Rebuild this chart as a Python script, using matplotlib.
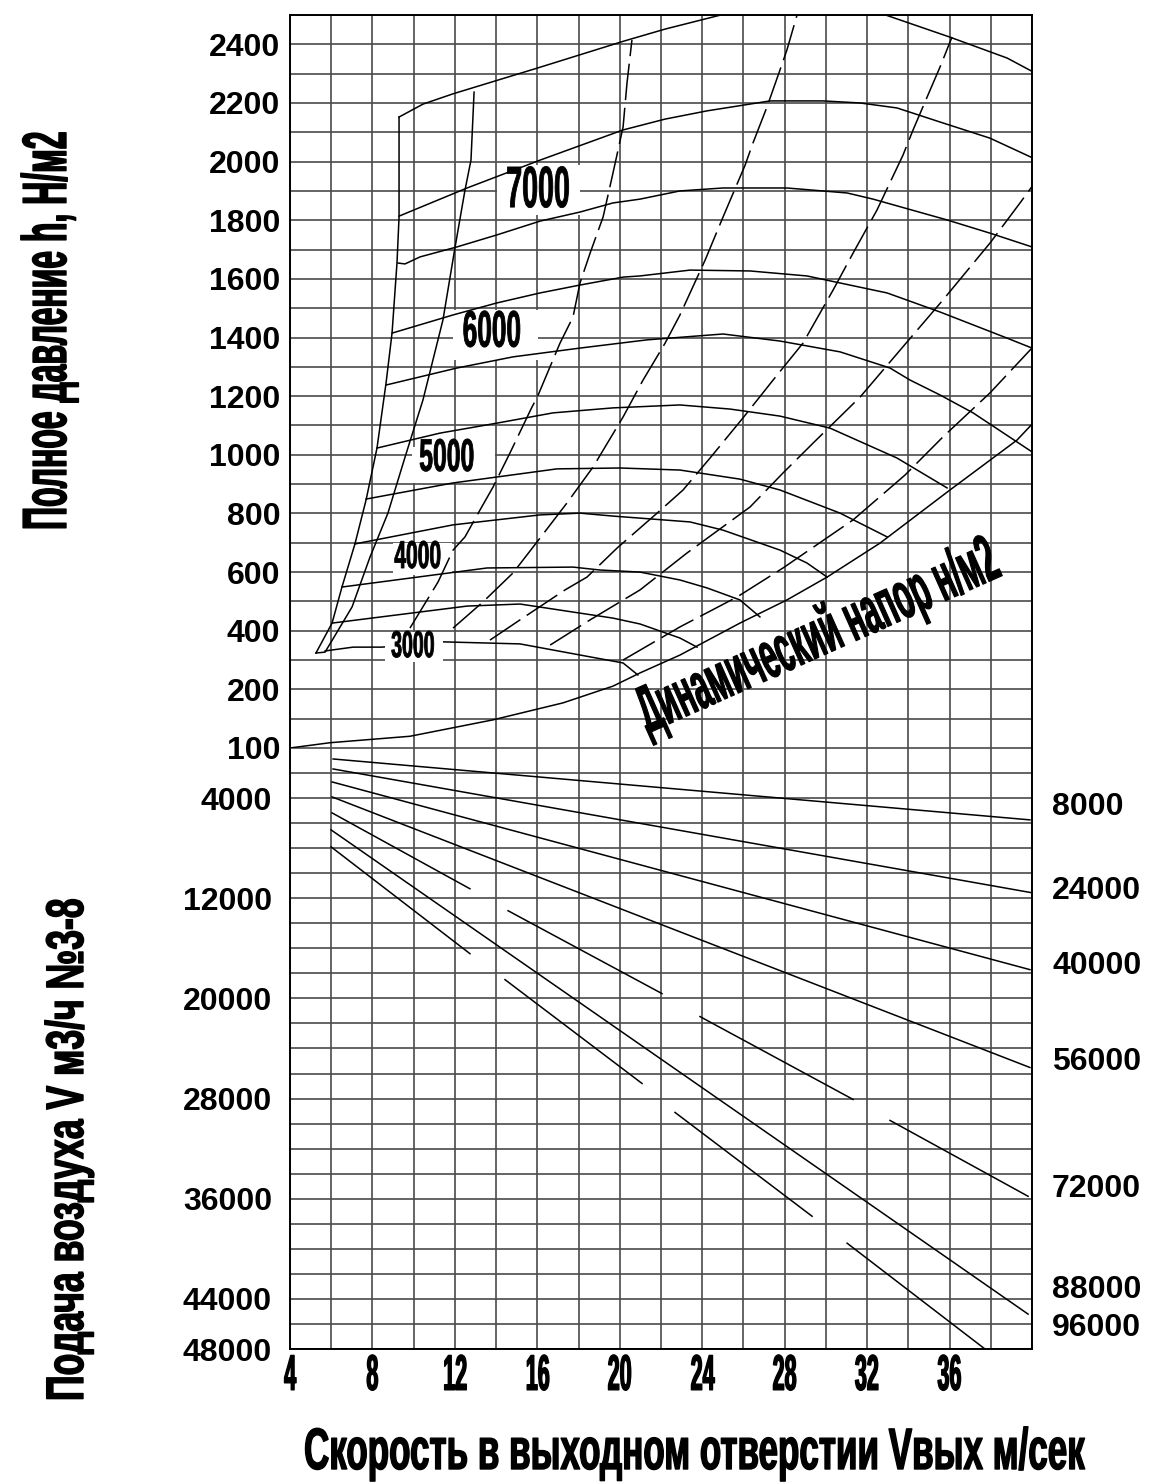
import numpy as np
import matplotlib
matplotlib.use("Agg")
import matplotlib.pyplot as plt
from matplotlib.patches import Rectangle
from matplotlib.patheffects import AbstractPathEffect
from matplotlib.transforms import Affine2D, blended_transform_factory

plt.rcParams['font.family'] = ['Liberation Sans', 'DejaVu Sans']
plt.rcParams['font.weight'] = 'bold'

# ---- axes / labels ----
speed_grid = list(range(4, 41, 2))
speed_labels = [4, 8, 12, 16, 20, 24, 28, 32, 36]
press_grid = [100, 150] + list(range(200, 2501, 100))
press_labels = [2400, 2200, 2000, 1800, 1600, 1400, 1200, 1000, 800, 600, 400, 200, 100]
flow_grid = list(range(0, 48001, 2000))
flow_labels = [4000, 12000, 20000, 28000, 36000, 44000, 48000]
# right side labels (fan size lines) and where they sit
fan_names = ['8000', '24000', '40000', '56000', '72000', '88000', '96000']
fan_label_q = [4700, 11400, 17400, 25100, 35200, 43300, 46300]

# ---- pressure curves (speed m/s, pressure N/m2) ----
c0_v = [32.9, 36.0, 38.8, 40.05]
c0_h = [2500, 2425, 2353, 2306]
c1_v = [9.29, 10.45, 11.9, 16.0, 20.2, 22.2, 24.9]
c1_h = [2152, 2196, 2231, 2319, 2411, 2452, 2500]
c2_v = [9.29, 12.59, 16.13, 20.16, 22.2, 24.23, 27.29, 29.86, 31.66, 33.45, 35.54, 37.96, 40.05]
c2_h = [1814, 1910, 2005, 2108, 2145, 2173, 2207, 2207, 2200, 2183, 2135, 2080, 2012]
c3_v = [9.24, 9.58, 10.31, 12.1, 14.04, 16.13, 18.07, 19.67, 20.98, 22.92, 25.01, 28.11, 31.03,
        32.29, 35.88, 37.96, 40.0]
c3_h = [1654, 1651, 1675, 1709, 1750, 1797, 1828, 1859, 1872, 1900, 1910, 1910, 1893,
        1872, 1801, 1756, 1709]
c4_v = [8.95, 11.91, 14.04, 16.13, 18.07, 20.16, 20.98, 23.41, 26.32, 29.08, 32.97, 35.54, 38.79, 40.0]
c4_h = [1415, 1477, 1518, 1552, 1579, 1606, 1610, 1630, 1627, 1610, 1552, 1487, 1398, 1364]
c5_v = [8.66, 12.1, 14.82, 18.07, 21.32, 25.01, 27.77, 30.69, 33.11, 34.08, 35.54, 37.14, 40.0]
c5_h = [1238, 1296, 1334, 1364, 1392, 1412, 1388, 1351, 1296, 1255, 1204, 1143, 1010]
c6_v = [8.22, 11.28, 14.04, 16.76, 19.67, 22.92, 25.35, 27.77, 30.2, 33.45, 35.88]
c6_h = [1023, 1074, 1108, 1143, 1160, 1170, 1156, 1132, 1091, 989, 887]
c7_v = [7.69, 11.91, 16.95, 20.01, 22.92, 25.83, 27.77, 30.69, 32.97]
c7_h = [849, 904, 952, 955, 948, 917, 880, 801, 720]
c8_v = [7.15, 11.91, 16.13, 18.07, 19.67, 23.41, 25.01, 27.77, 29.08, 30.06]
c8_h = [696, 761, 795, 801, 791, 771, 743, 675, 631, 583]
c9_v = [6.52, 13.56, 17.73, 19.04, 20.98, 22.92, 24.23, 25.83, 26.8]
c9_h = [549, 614, 617, 607, 600, 573, 546, 505, 447]
c10_v = [6.04, 12.59, 15.16, 19.67, 20.98, 22.92, 23.75]
c10_h = [426, 484, 491, 443, 423, 375, 344]
c11_v = [5.7, 7.06, 8.46, 11.42, 15.16, 20.16, 20.88]
c11_h = [331, 344, 344, 362, 355, 290, 249]

# boundary lines on the left
e1_v = [9.29, 9.29, 9.19, 8.95, 8.66, 8.22, 7.69, 7.15, 6.52, 6.04, 5.26]
e1_h = [2152, 1811, 1654, 1415, 1245, 1023, 846, 696, 549, 426, 324]
e2_v = [12.93, 12.78, 12.49, 12.01, 11.42, 10.45, 9.58, 8.75, 7.88, 7.01, 5.7, 5.26]
e2_h = [2237, 2005, 1903, 1709, 1460, 1187, 992, 801, 651, 481, 327, 324]

# dashed lines
d1_v = [9.82, 11.18, 11.91, 12.49, 13.22, 13.85, 14.67, 15.74, 15.98, 17.1, 17.73, 18.07, 18.56,
        19.19, 19.67, 20.16, 20.35, 20.59]
d1_h = [409, 566, 675, 720, 812, 890, 1006, 1163, 1194, 1381, 1470, 1586, 1688,
        1811, 1961, 2118, 2268, 2415]
d2_v = [11.91, 13.36, 14.82, 16.13, 17.44, 18.7, 20.16, 21.13, 22.2, 22.92, 23.41, 24.14, 25.01,
        26.08, 26.46, 27.14, 27.77, 28.11, 28.6]
d2_h = [409, 498, 597, 716, 836, 958, 1129, 1255, 1381, 1477, 1552, 1664, 1811,
        1988, 2063, 2186, 2312, 2381, 2500]
d3_v = [13.7, 15.16, 17.34, 18.41, 19.87, 21.81, 23.07, 24.38, 25.98, 27.44, 28.89, 30.35, 31.32,
        32.48, 33.74, 34.23, 34.91, 35.54, 36.12]
d3_h = [368, 437, 539, 583, 682, 801, 880, 989, 1126, 1255, 1381, 1562, 1688,
        1835, 2022, 2108, 2220, 2323, 2425]
d4_v = [16.62, 18.56, 20.98, 23.26, 26.32, 27.92, 29.38, 31.66, 33.6, 35.68, 37.96, 39.42, 40.05]
d4_h = [351, 437, 539, 665, 822, 938, 1040, 1197, 1357, 1528, 1722, 1859, 1920]
d5_v = [20.16, 22.92, 25.69, 27.92, 31.32, 33.84, 35.68, 37.96, 40.05]
d5_h = [300, 413, 515, 614, 778, 931, 1061, 1211, 1368]

# dynamic pressure curve
dyn_v = [4.0, 5.94, 9.82, 13.85, 17.25, 19.67, 20.98, 22.92, 25.83, 28.11, 30.06, 32.63, 36.02, 39.27, 40.05]
dyn_h = [100, 109, 120, 148, 177, 211, 256, 317, 426, 505, 583, 699, 880, 1050, 1108]

# ---- flow lines (speed m/s, flow m3/h) ----
q8000_v = [6.09, 39.9]
q8000_q = [877, 5741]
q24000_v = [6.09, 40.0]
q24000_q = [1675, 11562]
q40000_v = [6.04, 39.9]
q40000_q = [2711, 17702]
q56000_v = [6.04, 39.9]
q56000_q = [3907, 25517]
q72000_v = [6.04, 12.73, 14.58, 22.05, 23.89, 31.32, 33.11, 39.81]
q72000_q = [5183, 11243, 12997, 19616, 21450, 28068, 29743, 35803]
q88000_v = [5.99, 39.81]
q88000_q = [6539, 45213]
q96000_v = [5.99, 12.73, 14.43, 21.08, 22.68, 29.33, 31.03, 37.72]
q96000_q = [7894, 16426, 18500, 26793, 29105, 37398, 39551, 48003]

# curve labels: text, centre (v, h), white box (v0, v1, h0, h1), size, squeeze
curve_labels = [
    ('7000', 16.03, 1896, (14.04, 18.07, 1818, 1988), 42, 0.49),
    ('6000', 13.80, 1415, (11.91, 16.03, 1323, 1494), 37, 0.51),
    ('5000', 11.62, 986, (9.92, 13.95, 904, 1027), 33, 0.54),
    ('4000', 10.21, 648, (9.0, 11.86, 590, 699), 28, 0.54),
    ('3000', 9.97, 344, (8.61, 11.42, 293, 396), 27, 0.52),
]


class Squeeze(AbstractPathEffect):
    """Draw text condensed / stretched, like the drawing's lettering."""
    def __init__(self, sx=1.0, sy=1.0, lw=0.0):
        super().__init__()
        self.sx, self.sy, self.lw = sx, sy, lw

    def draw_path(self, renderer, gc, tpath, affine, rgbFace=None):
        bb = tpath.get_extents()
        cx = 0.5 * (bb.x0 + bb.x1)
        t = Affine2D().translate(-cx, 0).scale(self.sx, self.sy).translate(cx, 0)
        gc0 = renderer.new_gc()
        gc0.copy_properties(gc)
        if self.lw > 0:
            gc0.set_linewidth(self.lw)
            gc0.set_foreground(rgbFace)
        renderer.draw_path(gc0, tpath, t + affine, rgbFace)
        gc0.restore()


def fwd(p):
    return np.interp(p, [100, 200, 2500], [0, 2, 25])


def inv(u):
    return np.interp(u, [0, 2, 25], [100, 200, 2500])


fig = plt.figure(figsize=(11.55, 14.84), dpi=100)
ax_top = fig.add_axes([0.2511, 0.49596, 0.6424, 0.49393])
ax_bot = fig.add_axes([0.2511, 0.09097, 0.6424, 0.40499])

grid_kw = dict(color='#4a4a4a', lw=1.2, zorder=1)
for ax in (ax_top, ax_bot):
    ax.set_xlim(4, 40)
    for v in speed_grid:
        ax.axvline(v, **grid_kw)
    ax.set_xticks([])
    ax.tick_params(length=0)
    for sp in ax.spines.values():
        sp.set_linewidth(1.4)
        sp.set_zorder(5)
ax_top.spines['bottom'].set_visible(False)
ax_bot.spines['top'].set_visible(False)

ax_top.set_yscale('function', functions=(fwd, inv))
ax_top.set_ylim(100, 2500)
for p in press_grid:
    ax_top.axhline(p, **grid_kw)
ax_top.set_yticks(press_labels)
ax_top.set_yticklabels([str(p) for p in press_labels], fontsize=23, fontweight='bold')
ax_top.tick_params(axis='y', pad=7)

ax_bot.set_ylim(48000, 0)
for q in flow_grid:
    ax_bot.axhline(q, **grid_kw)
ax_bot.set_yticks(flow_labels)
ax_bot.set_yticklabels([str(q) for q in flow_labels], fontsize=23, fontweight='bold')
ax_bot.tick_params(axis='y', pad=13)

line_kw = dict(color='black', lw=1.1, zorder=3)
for v, h in [(c0_v, c0_h), (c1_v, c1_h), (c2_v, c2_h), (c3_v, c3_h), (c4_v, c4_h),
             (c5_v, c5_h), (c6_v, c6_h), (c7_v, c7_h), (c8_v, c8_h), (c9_v, c9_h),
             (c10_v, c10_h), (c11_v, c11_h), (e1_v, e1_h), (e2_v, e2_h), (dyn_v, dyn_h)]:
    ax_top.plot(v, h, **line_kw)
for v, h in [(d1_v, d1_h), (d2_v, d2_h), (d3_v, d3_h), (d4_v, d4_h), (d5_v, d5_h)]:
    ax_top.plot(v, h, color='black', lw=1.1, zorder=3, dashes=(24, 5))

for txt, v, h, box, size, sx in curve_labels:
    v0, v1, h0, h1 = box
    ax_top.add_patch(Rectangle((v0, h0), v1 - v0, h1 - h0, facecolor='white',
                               edgecolor='none', zorder=4 if txt == '3000' else 2))
    ax_top.text(v, h, txt, fontsize=size, fontweight='bold', ha='center', va='center',
                zorder=6, path_effects=[Squeeze(sx, 1.0, 0.6)])

ax_top.text(30.0, 320, 'Динамический напор н/м2', fontsize=21.6, fontweight='bold',
            rotation=24, rotation_mode='anchor', ha='center', va='baseline', zorder=6,
            path_effects=[Squeeze(1.0, 2.22, 0.8)])

for v, q in [(q8000_v, q8000_q), (q24000_v, q24000_q), (q40000_v, q40000_q),
             (q56000_v, q56000_q), (q88000_v, q88000_q)]:
    ax_bot.plot(v, q, **line_kw)
for v, q in [(q72000_v, q72000_q), (q96000_v, q96000_q)]:
    for i in range(0, len(v), 2):
        ax_bot.plot(v[i:i + 2], q[i:i + 2], **line_kw)

tr = blended_transform_factory(ax_bot.transAxes, ax_bot.transData)
for name, q in zip(fan_names, fan_label_q):
    ax_bot.text(1.027, q, name, transform=tr, fontsize=23, fontweight='bold',
                ha='left', va='center', clip_on=False)

trx = blended_transform_factory(ax_bot.transData, ax_bot.transAxes)
for v in speed_labels:
    ax_bot.text(v, -0.008, str(v), transform=trx, fontsize=36, fontweight='bold',
                ha='center', va='top', clip_on=False, path_effects=[Squeeze(0.43, 1.0, 1.0)])

fig.text(0.6017, 1 - 1469 / 1484, 'Скорость в выходном отверстии Vвых м/сек', fontsize=25.2,
         fontweight='bold', ha='center', va='baseline', rotation_mode='anchor',
         path_effects=[Squeeze(1.0, 1.667, 1.0)])
fig.text(66 / 1155, 1 - 330 / 1484, 'Полное давление h, Н/м2', fontsize=23,
         fontweight='bold', rotation=90, rotation_mode='anchor', ha='center', va='baseline',
         path_effects=[Squeeze(1.0, 1.953, 1.0)])
fig.text(83 / 1155, 1 - 1150 / 1484, 'Подача воздуха V м3/ч №3-8', fontsize=25.6,
         fontweight='bold', rotation=90, rotation_mode='anchor', ha='center', va='baseline',
         path_effects=[Squeeze(1.0, 1.486, 1.0)])

fig.savefig('out.png', dpi=100, facecolor='white')
